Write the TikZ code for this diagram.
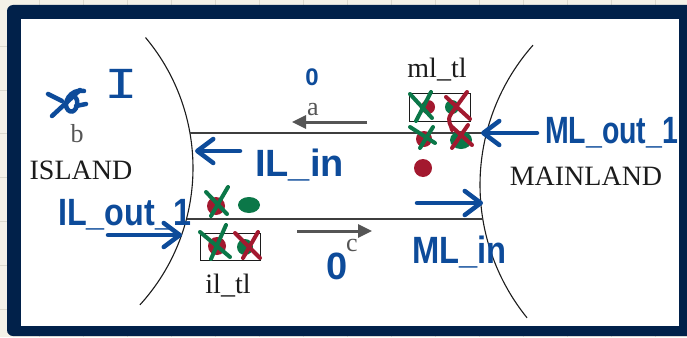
\documentclass[tikz,border=0pt]{standalone}
\usepackage{fontspec}
\setmainfont{Liberation Serif}
\newfontfamily\handfont{Liberation Sans}
\newfontfamily\monofnt{DejaVu Sans Mono}
\usetikzlibrary{arrows.meta}
\definecolor{navy}{HTML}{01214A}
\definecolor{paper}{HTML}{F4F2E8}
\definecolor{gridc}{HTML}{DCDACE}
\definecolor{hblue}{HTML}{0D4B9A}
\definecolor{dred}{HTML}{A3192F}
\definecolor{dgreen}{HTML}{0B7748}
\definecolor{lgray}{HTML}{555555}
\definecolor{ink}{HTML}{1C1C1C}
\begin{document}
\begin{tikzpicture}[x=1pt,y=-1pt,
  shore/.style={draw=ink, line width=1.1pt},
  bridge/.style={draw=ink!85, line width=1.1pt},
  lbl/.style={inner sep=0pt, text=ink, font=\fontsize{28}{28}\selectfont},
  glbl/.style={inner sep=0pt, text=lgray, font=\fontsize{26}{26}\selectfont},
  hand/.style={inner sep=0pt, text=hblue, font=\handfont\bfseries\fontsize{38}{38}\selectfont},
  garrow/.style={draw=lgray, line width=3pt, -{Triangle[length=14pt,width=13pt]}},
  barrow/.style={draw=hblue, line width=4.5pt, line cap=round, -{Straight Barb[round,length=16pt,width=24pt]}},
  hstroke/.style={draw=hblue, line width=4.5pt, line cap=round, line join=round},
  gx/.style={draw=dgreen, line width=4pt, line cap=round},
  rx/.style={draw=dred, line width=4pt, line cap=round, line join=round},
  tlbox/.style={draw=ink, line width=1pt, inner sep=0pt}
]
\useasboundingbox (0,0) rectangle (687,337);
% page background with faint grid
\fill[paper] (0,0) rectangle (687,337);
\foreach \gx in {0,...,15} {\draw[gridc, line width=0.8pt] ({39.5+44*\gx},0) -- ({39.5+44*\gx},337);}
\foreach \gy in {-1,...,5} {\draw[gridc, line width=0.8pt] (0,{90+43.8*\gy}) -- (687,{90+43.8*\gy});}
% frame
\fill[navy, rounded corners=6pt] (7,5) rectangle (700,336);
\fill[white] (21,19) rectangle (679,326);
% shores
\draw[shore] plot[domain=-40:42.4, samples=70, smooth] ({-10+203*cos(\x)},{168+203*sin(\x)});
\draw[shore] plot[domain=141:221.5, samples=70, smooth] ({691+211*cos(\x)},{185+211*sin(\x)});
% bridge
\coordinate (bt1) at (190,133); \coordinate (bt2) at (486,133);
\coordinate (bb1) at (187,219); \coordinate (bb2) at (483,219);
\draw[bridge] (bt1) -- (bt2);
\draw[bridge] (bb1) -- (bb2);
% traffic light boxes
\node[tlbox, minimum width=61pt, minimum height=28pt] (mlbox) at (439.5,107) {};
\node[tlbox, minimum width=60pt, minimum height=27pt] (ilbox) at (230,246.5) {};
% labels
\node[lbl, anchor=base] (island) at (81,179) {ISLAND};
\node[lbl, anchor=base] (mainland) at (586,185) {MAINLAND};
\node[lbl, anchor=base] (mltl) at (437,77) {ml\_tl};
\node[lbl, anchor=base] (iltl) at (228,293) {il\_tl};
\node[glbl, anchor=base] (la) at (313,115) {a};
\node[glbl, anchor=base] (lb) at (77,142) {b};
\node[glbl, anchor=base] (lc) at (352,251) {c};
% grey arrows
\coordinate (a1) at (367,122); \coordinate (a2) at (292,122);
\coordinate (c1) at (297,231); \coordinate (c2) at (372,231);
\draw[garrow] (a1) -- (a2);
\draw[garrow] (c1) -- (c2);
% dots near ml_tl
\fill[dred] (428,107) circle[radius=7];
\fill[dgreen] (452,107) circle[radius=7];
\fill[dred] (424,139) circle[radius=8];
\fill[dgreen] (461,140) ellipse[x radius=11, y radius=9];
\fill[dred] (423,168) circle[radius=9];
\draw[gx] (410,94) -- (432,118) (431,92) -- (416,121);
\draw[gx] (410,127) -- (435,143) (433,127) -- (420,148);
\draw[rx] (446,97) -- (470,119);
\draw[rx] (467,92) -- (451,114) .. controls (446,121) and (452,126) .. (452,130);
\draw[rx] (451,126) -- (472,145) (468,125) -- (452,148);
% dots near il_tl
\fill[dred] (216,206) circle[radius=9];
\fill[dgreen] (249,205) ellipse[x radius=11, y radius=8];
\fill[dred] (217,246) circle[radius=9];
\fill[dgreen] (245,247) circle[radius=8];
\draw[gx] (206,192) -- (227,214) (228,187) -- (211,216);
\draw[gx] (200,232) -- (230,257) (226,225) -- (211,259);
\draw[rx] (235,233) -- (260,258) (258,232) -- (243,258);
% blue handwriting
\coordinate (bi1) at (240,151); \coordinate (bi2) at (195,151);
\coordinate (bmo1) at (537,133); \coordinate (bmo2) at (481,133);
\coordinate (bmi1) at (417,203); \coordinate (bmi2) at (483,203);
\coordinate (bio1) at (108,235); \coordinate (bio2) at (182,235);
\draw[barrow] (bi1) -- (bi2);
\draw[barrow] (bmo1) -- (bmo2);
\draw[barrow] (bmi1) -- (bmi2);
\draw[barrow] (bio1) -- (bio2);
\node[hand, anchor=base west] (ilin) at (255,176) {IL\_in};
\node[hand, anchor=base west, xscale=0.75] (mlout) at (545,143) {ML\_out\_1};
\node[hand, anchor=base west, xscale=0.86] (mlin) at (412,263) {ML\_in};
\node[hand, anchor=base west, xscale=0.85] (ilout) at (58,225) {IL\_out\_1};
\node[hand, font=\handfont\bfseries\fontsize{24}{24}\selectfont] (zt) at (312,77) {0};
\node[hand] (zb) at (337,266) {0};
\node[inner sep=0pt, text=hblue, font=\monofnt\fontsize{40}{40}\selectfont, xscale=1.4] (bigI) at (121,84) {I};
% scribble near b
\draw[hstroke] (48,94) -- (62,101);
\draw[hstroke] (84,91) .. controls (70,88) and (62,104) .. (68,110) .. controls (74,116) and (80,104) .. (76,98);
\draw[hstroke] (52,116) -- (80,90);
\draw[hstroke] (76,106) -- (86,104);
\end{tikzpicture}
\end{document}
